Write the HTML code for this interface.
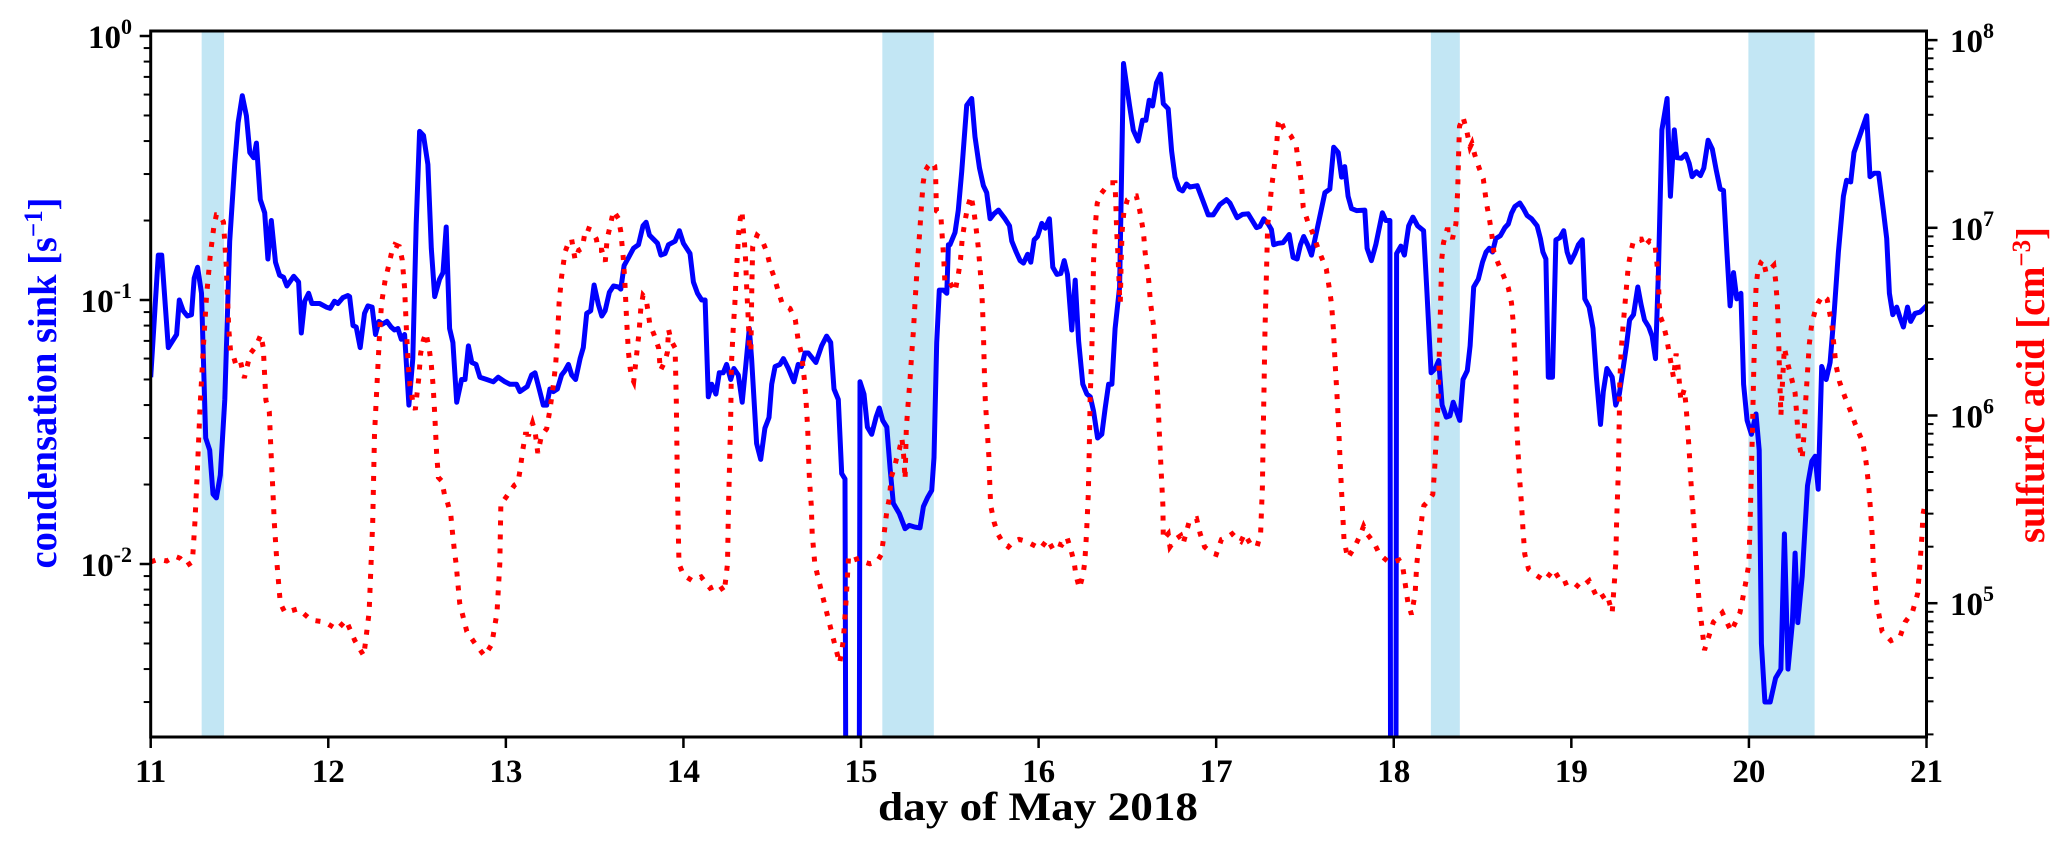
<!DOCTYPE html>
<html><head><meta charset="utf-8"><style>
html,body{margin:0;padding:0;background:#fff;}
svg{display:block;}
text{font-family:"Liberation Serif",serif;font-weight:bold;}
</style></head><body>
<svg id="chart" width="2067" height="852" viewBox="0 0 2067 852" xmlns="http://www.w3.org/2000/svg">
<defs><clipPath id="plotClip"><rect x="150.7" y="31" width="1775.8" height="706"/></clipPath></defs>
<rect x="0" y="0" width="2067" height="852" fill="#fff"/>
<g id="shades" clip-path="url(#plotClip)"></g>
<g id="series" clip-path="url(#plotClip)"></g>
<g id="axes"></g>
</svg>
<script>
// ---- data ----
const shadeStarts = [11.287, 15.12, 18.209, 19.997];
const shadeEnds = [11.413, 15.41, 18.372, 20.37];
const xTickLabels = [11,12,13,14,15,16,17,18,19,20,21];
const leftTickExps = [0,-1,-2];
const rightTickExps = [8,7,6,5];

const csDays = [11.0,11.043,11.062,11.099,11.146,11.161,11.183,11.206,11.23,11.245,11.264,11.286,11.31,11.332,11.351,11.37,11.392,11.417,11.445,11.473,11.492,11.516,11.539,11.558,11.58,11.595,11.617,11.642,11.66,11.679,11.703,11.726,11.748,11.767,11.805,11.833,11.848,11.867,11.889,11.908,11.951,11.989,12.011,12.035,12.054,12.082,12.11,12.12,12.139,12.157,12.18,12.204,12.223,12.247,12.266,12.285,12.304,12.33,12.354,12.373,12.392,12.411,12.43,12.454,12.476,12.495,12.514,12.536,12.561,12.58,12.599,12.627,12.646,12.664,12.683,12.702,12.723,12.751,12.77,12.789,12.808,12.832,12.854,12.892,12.929,12.957,12.995,13.023,13.06,13.079,13.12,13.145,13.164,13.188,13.211,13.23,13.248,13.267,13.29,13.314,13.333,13.352,13.371,13.393,13.418,13.436,13.455,13.478,13.497,13.521,13.54,13.559,13.583,13.606,13.634,13.647,13.666,13.691,13.719,13.747,13.772,13.79,13.809,13.835,13.854,13.873,13.897,13.916,13.953,13.977,14.0,14.037,14.056,14.079,14.103,14.122,14.14,14.159,14.183,14.202,14.224,14.243,14.266,14.284,14.309,14.331,14.352,14.371,14.384,14.412,14.435,14.459,14.482,14.497,14.516,14.544,14.563,14.591,14.622,14.646,14.665,14.684,14.703,14.746,14.778,14.806,14.829,14.848,14.872,14.891,14.91,14.915,14.99,14.994,15.017,15.036,15.06,15.085,15.103,15.122,15.145,15.164,15.182,15.216,15.248,15.272,15.304,15.332,15.351,15.374,15.398,15.411,15.426,15.441,15.464,15.483,15.492,15.501,15.529,15.548,15.567,15.595,15.623,15.642,15.667,15.689,15.708,15.727,15.749,15.774,15.811,15.836,15.849,15.874,15.896,15.915,15.938,15.956,15.975,15.994,16.018,16.037,16.061,16.08,16.103,16.125,16.144,16.163,16.187,16.206,16.225,16.249,16.272,16.291,16.309,16.332,16.356,16.375,16.394,16.413,16.431,16.456,16.478,16.512,16.533,16.561,16.585,16.604,16.623,16.642,16.664,16.687,16.702,16.73,16.749,16.768,16.792,16.811,16.833,16.852,16.893,16.923,16.955,16.983,17.021,17.058,17.077,17.118,17.148,17.18,17.227,17.246,17.268,17.293,17.311,17.324,17.349,17.377,17.411,17.433,17.456,17.475,17.493,17.518,17.537,17.565,17.587,17.612,17.64,17.662,17.687,17.706,17.724,17.743,17.762,17.79,17.837,17.85,17.874,17.899,17.936,17.955,17.978,17.982,18.012,18.016,18.04,18.06,18.084,18.108,18.134,18.168,18.187,18.21,18.234,18.253,18.272,18.296,18.316,18.335,18.372,18.39,18.414,18.43,18.45,18.476,18.5,18.52,18.538,18.556,18.575,18.6,18.626,18.645,18.663,18.682,18.71,18.73,18.751,18.776,18.807,18.826,18.84,18.857,18.87,18.894,18.913,18.935,18.957,18.976,18.995,19.02,19.04,19.062,19.076,19.1,19.122,19.141,19.164,19.18,19.2,19.23,19.25,19.27,19.29,19.31,19.328,19.35,19.374,19.393,19.412,19.436,19.455,19.474,19.49,19.51,19.539,19.558,19.58,19.595,19.62,19.644,19.663,19.68,19.704,19.727,19.746,19.77,19.794,19.816,19.838,19.857,19.876,19.894,19.913,19.932,19.955,19.97,19.99,20.014,20.04,20.058,20.07,20.09,20.12,20.15,20.18,20.2,20.22,20.245,20.26,20.275,20.3,20.33,20.354,20.373,20.39,20.41,20.435,20.457,20.48,20.504,20.532,20.55,20.573,20.592,20.622,20.663,20.682,20.705,20.73,20.757,20.776,20.791,20.81,20.832,20.85,20.87,20.893,20.911,20.935,20.964,20.992,21.0];
const csValues = [0.051,0.148,0.148,0.066,0.074,0.1,0.091,0.087,0.088,0.121,0.133,0.106,0.030,0.027,0.0184,0.0178,0.0217,0.042,0.167,0.326,0.469,0.594,0.499,0.362,0.346,0.393,0.24,0.214,0.143,0.2,0.139,0.124,0.122,0.113,0.123,0.117,0.075,0.099,0.106,0.097,0.097,0.094,0.093,0.099,0.097,0.102,0.104,0.103,0.080,0.079,0.066,0.089,0.095,0.094,0.074,0.083,0.081,0.083,0.079,0.077,0.078,0.071,0.074,0.040,0.060,0.194,0.435,0.42,0.326,0.157,0.103,0.12,0.127,0.189,0.078,0.069,0.041,0.050,0.050,0.067,0.058,0.057,0.051,0.050,0.049,0.051,0.049,0.048,0.048,0.045,0.047,0.052,0.053,0.046,0.040,0.040,0.046,0.045,0.046,0.052,0.054,0.057,0.052,0.050,0.060,0.066,0.089,0.091,0.114,0.096,0.087,0.091,0.107,0.113,0.112,0.110,0.135,0.145,0.157,0.162,0.191,0.197,0.176,0.169,0.164,0.148,0.150,0.162,0.167,0.183,0.164,0.150,0.117,0.106,0.100,0.100,0.043,0.048,0.044,0.053,0.053,0.057,0.050,0.055,0.052,0.041,0.057,0.078,0.060,0.0286,0.0249,0.0327,0.0359,0.048,0.056,0.057,0.060,0.055,0.049,0.057,0.056,0.063,0.063,0.058,0.067,0.073,0.069,0.046,0.042,0.022,0.021,0.001,0.001,0.049,0.044,0.033,0.031,0.036,0.039,0.035,0.033,0.023,0.017,0.0155,0.0136,0.014,0.0138,0.0137,0.0165,0.0178,0.019,0.0253,0.069,0.109,0.109,0.106,0.162,0.162,0.18,0.219,0.306,0.546,0.58,0.415,0.316,0.271,0.255,0.203,0.212,0.219,0.203,0.191,0.167,0.152,0.141,0.138,0.149,0.139,0.169,0.174,0.195,0.187,0.203,0.133,0.125,0.126,0.141,0.125,0.077,0.119,0.070,0.048,0.044,0.043,0.038,0.030,0.031,0.039,0.048,0.048,0.078,0.112,0.787,0.546,0.44,0.40,0.48,0.48,0.571,0.543,0.665,0.718,0.554,0.53,0.367,0.292,0.263,0.259,0.275,0.268,0.271,0.24,0.21,0.21,0.23,0.24,0.233,0.205,0.211,0.212,0.188,0.19,0.203,0.194,0.185,0.162,0.164,0.165,0.177,0.145,0.143,0.162,0.174,0.16,0.148,0.181,0.212,0.255,0.263,0.379,0.362,0.292,0.32,0.247,0.222,0.218,0.219,0.157,0.141,0.162,0.214,0.2,0.2,0.001,0.001,0.15,0.16,0.148,0.191,0.206,0.191,0.183,0.106,0.053,0.055,0.059,0.040,0.036,0.0364,0.041,0.035,0.050,0.054,0.067,0.112,0.12,0.139,0.152,0.157,0.152,0.171,0.175,0.188,0.194,0.213,0.226,0.233,0.222,0.209,0.203,0.191,0.171,0.152,0.143,0.051,0.051,0.169,0.172,0.183,0.152,0.139,0.15,0.162,0.169,0.101,0.094,0.078,0.051,0.0338,0.045,0.055,0.051,0.040,0.044,0.054,0.067,0.084,0.088,0.112,0.096,0.084,0.079,0.073,0.060,0.127,0.441,0.58,0.247,0.441,0.346,0.344,0.357,0.33,0.293,0.306,0.296,0.316,0.403,0.373,0.311,0.263,0.26,0.152,0.095,0.127,0.101,0.106,0.048,0.035,0.031,0.037,0.027,0.005,0.003,0.003,0.0037,0.004,0.013,0.004,0.006,0.011,0.006,0.009,0.0198,0.0245,0.0256,0.0192,0.056,0.05,0.058,0.09,0.152,0.247,0.284,0.28,0.362,0.415,0.499,0.293,0.302,0.302,0.219,0.171,0.106,0.088,0.094,0.086,0.079,0.094,0.083,0.089,0.09,0.094,0.095];

const acidDays = [11.0,11.043,11.09,11.137,11.165,11.203,11.235,11.249,11.263,11.277,11.296,11.315,11.335,11.355,11.37,11.39,11.41,11.425,11.44,11.45,11.462,11.48,11.505,11.527,11.561,11.593,11.62,11.634,11.649,11.668,11.677,11.687,11.696,11.711,11.73,11.756,11.83,11.904,11.98,12.05,12.1,12.15,12.2,12.23,12.25,12.26,12.28,12.29,12.3,12.32,12.338,12.357,12.375,12.4,12.416,12.43,12.44,12.45,12.46,12.475,12.49,12.5,12.51,12.52,12.535,12.55,12.568,12.58,12.59,12.6,12.61,12.62,12.64,12.66,12.67,12.69,12.7,12.71,12.72,12.74,12.78,12.83,12.88,12.92,12.95,12.966,12.972,12.99,13.02,13.05,13.068,13.08,13.096,13.11,13.13,13.15,13.165,13.18,13.2,13.23,13.248,13.267,13.28,13.29,13.3,13.314,13.333,13.352,13.37,13.39,13.41,13.43,13.45,13.48,13.51,13.52,13.54,13.56,13.57,13.59,13.606,13.634,13.647,13.66,13.67,13.68,13.69,13.7,13.71,13.72,13.73,13.75,13.76,13.772,13.79,13.8,13.81,13.835,13.86,13.87,13.897,13.91,13.916,13.93,13.953,13.96,13.965,13.97,13.975,14.0,14.05,14.1,14.15,14.2,14.23,14.248,14.253,14.26,14.266,14.27,14.28,14.29,14.297,14.305,14.312,14.32,14.33,14.336,14.342,14.35,14.356,14.364,14.371,14.38,14.385,14.39,14.415,14.44,14.47,14.49,14.51,14.535,14.555,14.58,14.6,14.63,14.646,14.665,14.68,14.69,14.7,14.705,14.71,14.72,14.725,14.735,14.74,14.78,14.82,14.86,14.88,14.9,14.915,14.93,14.96,14.99,15.017,15.05,15.09,15.115,15.13,15.145,15.16,15.17,15.19,15.2,15.216,15.23,15.24,15.248,15.255,15.265,15.276,15.285,15.295,15.304,15.313,15.322,15.332,15.341,15.35,15.36,15.378,15.397,15.415,15.42,15.423,15.425,15.44,15.45,15.458,15.466,15.472,15.48,15.5,15.53,15.548,15.56,15.57,15.583,15.6,15.62,15.635,15.645,15.66,15.67,15.68,15.685,15.69,15.695,15.7,15.71,15.72,15.725,15.73,15.75,15.77,15.8,15.83,15.86,15.89,15.93,15.97,16.01,16.05,16.08,16.1,16.13,16.16,16.18,16.2,16.21,16.23,16.25,16.26,16.27,16.28,16.285,16.29,16.3,16.305,16.31,16.32,16.33,16.35,16.375,16.4,16.43,16.435,16.44,16.448,16.456,16.46,16.465,16.47,16.48,16.5,16.53,16.55,16.57,16.59,16.6,16.62,16.63,16.65,16.66,16.67,16.68,16.69,16.7,16.702,16.73,16.74,16.77,16.8,16.815,16.85,16.89,16.91,16.935,16.97,17.0,17.03,17.06,17.09,17.11,17.14,17.16,17.19,17.23,17.25,17.26,17.265,17.27,17.275,17.28,17.285,17.29,17.3,17.31,17.325,17.34,17.35,17.36,17.38,17.42,17.45,17.46,17.48,17.49,17.52,17.54,17.57,17.59,17.62,17.64,17.65,17.66,17.67,17.68,17.69,17.7,17.71,17.72,17.74,17.78,17.81,17.83,17.85,17.89,17.92,17.97,18.0,18.03,18.05,18.08,18.1,18.12,18.13,18.145,18.16,18.17,18.2,18.22,18.23,18.24,18.25,18.255,18.26,18.265,18.27,18.28,18.3,18.32,18.33,18.35,18.36,18.365,18.37,18.39,18.41,18.43,18.44,18.456,18.48,18.504,18.522,18.538,18.55,18.564,18.588,18.616,18.645,18.663,18.673,18.68,18.688,18.69,18.7,18.71,18.72,18.728,18.738,18.76,18.8,18.85,18.9,18.95,19.0,19.05,19.1,19.15,19.2,19.23,19.25,19.255,19.265,19.27,19.273,19.28,19.29,19.3,19.31,19.32,19.334,19.35,19.37,19.394,19.41,19.44,19.47,19.48,19.49,19.495,19.5,19.517,19.535,19.55,19.563,19.576,19.59,19.6,19.608,19.617,19.636,19.645,19.655,19.664,19.673,19.683,19.692,19.7,19.72,19.75,19.8,19.85,19.9,19.95,19.98,20.0,20.005,20.01,20.015,20.02,20.025,20.03,20.035,20.04,20.05,20.07,20.08,20.097,20.12,20.14,20.15,20.16,20.166,20.17,20.175,20.18,20.19,20.2,20.22,20.24,20.26,20.27,20.28,20.3,20.31,20.32,20.33,20.34,20.354,20.373,20.39,20.415,20.44,20.45,20.466,20.48,20.49,20.51,20.54,20.57,20.6,20.64,20.66,20.675,20.685,20.696,20.7,20.72,20.75,20.8,20.85,20.88,20.92,20.95,20.964,20.975,20.98,20.99,21.0];
const acidLog10 = [5.22,5.234,5.225,5.25,5.24,5.2,5.22,5.43,5.71,6.03,6.36,6.64,6.85,7.0,7.07,7.07,7.03,6.8,6.46,6.34,6.33,6.27,6.29,6.2,6.33,6.37,6.43,6.36,6.08,6.02,5.82,5.62,5.43,5.21,5.0,4.95,4.97,4.91,4.9,4.86,4.91,4.8,4.72,4.95,5.43,5.9,6.27,6.46,6.6,6.72,6.79,6.87,6.91,6.9,6.83,6.68,6.46,6.27,6.16,6.08,6.03,6.12,6.2,6.33,6.4,6.44,6.36,6.27,6.16,6.0,5.8,5.67,5.65,5.55,5.54,5.47,5.37,5.28,5.21,5.0,4.85,4.78,4.72,4.78,4.95,5.21,5.54,5.55,5.59,5.63,5.64,5.71,5.82,5.9,5.9,5.96,5.91,5.8,5.89,5.93,6.03,6.16,6.27,6.4,6.6,6.74,6.87,6.92,6.94,6.83,6.88,6.89,7.0,6.99,6.94,6.88,6.88,6.82,6.94,7.02,7.09,7.05,6.98,6.85,6.72,6.51,6.34,6.25,6.2,6.18,6.27,6.44,6.57,6.64,6.62,6.56,6.49,6.43,6.36,6.24,6.29,6.34,6.46,6.4,6.36,6.08,5.71,5.43,5.21,5.15,5.12,5.14,5.08,5.1,5.06,5.21,5.49,5.75,5.99,6.27,6.46,6.6,6.75,6.87,6.98,7.05,7.09,7.0,6.94,6.83,6.68,6.53,6.38,6.34,6.68,6.9,6.96,6.94,6.87,6.79,6.74,6.66,6.6,6.58,6.57,6.51,6.4,6.33,6.2,6.08,5.93,5.78,5.65,5.52,5.37,5.26,5.21,5.05,4.9,4.75,4.68,4.8,5.0,5.25,5.23,5.24,5.22,5.21,5.22,5.26,5.37,5.49,5.56,5.67,5.73,5.77,5.82,5.88,5.79,5.66,5.93,6.06,6.19,6.32,6.45,6.6,6.74,6.87,7.0,7.13,7.24,7.3,7.33,7.35,7.33,7.28,7.17,7.09,7.08,7.06,6.94,6.83,6.72,6.7,6.71,6.66,6.75,6.83,6.94,7.02,7.11,7.17,7.09,7.02,6.9,6.79,6.66,6.55,6.4,6.23,6.08,5.93,5.78,5.63,5.52,5.43,5.37,5.32,5.3,5.33,5.34,5.33,5.31,5.29,5.34,5.29,5.32,5.31,5.35,5.29,5.22,5.15,5.08,5.15,5.22,5.37,5.58,5.8,6.08,6.36,6.59,6.83,7.02,7.13,7.18,7.21,7.24,7.24,7.13,6.98,6.83,6.64,6.6,6.83,6.98,7.08,7.15,7.17,7.17,7.09,6.98,6.87,6.72,6.6,6.46,6.27,6.12,5.9,5.71,5.52,5.34,5.37,5.3,5.34,5.36,5.32,5.44,5.45,5.37,5.3,5.27,5.26,5.34,5.35,5.37,5.35,5.33,5.37,5.32,5.3,5.37,5.62,5.9,6.17,6.46,6.64,6.83,7.02,7.09,7.2,7.31,7.44,7.56,7.58,7.53,7.49,7.44,7.37,7.24,7.11,7.02,6.98,6.9,6.85,6.78,6.66,6.59,6.46,6.27,6.12,5.93,5.71,5.52,5.34,5.24,5.3,5.36,5.41,5.37,5.32,5.26,5.22,5.22,5.23,5.2,5.0,4.94,5.05,5.21,5.34,5.47,5.52,5.55,5.58,5.71,5.9,6.08,6.27,6.46,6.64,6.83,6.92,6.99,6.99,6.94,7.02,7.2,7.39,7.54,7.59,7.52,7.43,7.45,7.39,7.32,7.26,7.13,7.05,6.98,6.87,6.81,6.75,6.68,6.6,6.49,6.34,6.18,6.01,5.8,5.65,5.52,5.39,5.26,5.18,5.15,5.12,5.18,5.1,5.12,5.08,5.12,5.02,5.05,4.95,5.21,5.43,5.71,5.99,6.18,6.34,6.46,6.57,6.68,6.79,6.87,6.93,6.94,6.94,6.9,6.93,6.92,6.83,6.72,6.6,6.53,6.49,6.42,6.34,6.27,6.2,6.33,6.27,6.18,6.08,6.14,6.06,5.93,5.8,5.65,5.52,5.39,5.26,5.0,4.75,4.9,4.95,4.85,4.95,5.1,5.21,5.37,5.56,5.75,5.93,6.16,6.34,6.53,6.68,6.77,6.82,6.83,6.76,6.78,6.8,6.72,6.6,6.46,6.31,6.16,6.0,6.2,6.36,6.27,6.2,6.12,5.99,5.86,5.77,5.9,6.08,6.23,6.38,6.49,6.56,6.6,6.64,6.62,6.57,6.49,6.36,6.27,6.18,6.1,6.03,5.95,5.86,5.75,5.62,5.49,5.34,5.21,5.0,4.85,4.8,4.82,4.9,4.95,5.05,5.22,5.37,5.47,5.52,5.54];

// ---- axes functions ----
const PL = 150.7, PR = 1926.5, PT = 31, PB = 737;
function xS(d){ return PL + (d - 11) * (PR - PL) / 10; }
function yL(v){ return 36 + (-Math.log10(v)) * 264; }
function yRlog(lg){ return 40.1 + (8 - lg) * 187.7; }
const NS = 'http://www.w3.org/2000/svg';
function mk(tag, attrs, parent){ const e = document.createElementNS(NS, tag); for (const k in attrs) e.setAttribute(k, attrs[k]); parent.appendChild(e); return e; }

const shades = document.getElementById('shades');
for (let i = 0; i < shadeStarts.length; i++) {
  const r = mk('rect', {x: xS(shadeStarts[i]), y: PT, width: xS(shadeEnds[i]) - xS(shadeStarts[i]), height: PB - PT, fill: '#c2e6f4'}, shades);
  
  
}

const series = document.getElementById('series');
let dB = '';
for (let i = 0; i < csDays.length; i++) dB += (i ? 'L' : 'M') + xS(csDays[i]).toFixed(1) + ' ' + yL(csValues[i]).toFixed(1);
const blue = mk('path', {d: dB, fill: 'none', stroke: '#0000ff', 'stroke-width': 5, 'stroke-linejoin': 'round'}, series);


let dR = '';
for (let i = 0; i < acidDays.length; i++) dR += (i ? 'L' : 'M') + xS(acidDays[i]).toFixed(1) + ' ' + yRlog(acidLog10[i]).toFixed(1);
const red = mk('path', {d: dR, fill: 'none', stroke: '#ff0000', 'stroke-width': 5, 'stroke-dasharray': '5 9'}, series);



const axes = document.getElementById('axes');
const frame = mk('rect', {x: PL, y: PT, width: PR - PL, height: PB - PT, fill: 'none', stroke: '#000', 'stroke-width': 3}, axes);



// x ticks
for (const t of xTickLabels) {
  const x = xS(t);
  const tk = mk('line', {x1: x, x2: x, y1: PB, y2: PB + 11, stroke: '#000', 'stroke-width': 2.5}, axes);
  
  
  const tx = mk('text', {x: x, y: 782, 'text-anchor': 'middle', 'font-size': 33, fill: '#000'}, axes);
  tx.textContent = String(t);
  
  
}
// left ticks
for (let e = 0; e >= -3; e--) {
  for (let m = 1; m <= 9; m++) {
    const v = m * Math.pow(10, e);
    const y = yL(v);
    if (y < PT - 0.5 || y > PB + 0.5) continue;
    const len = m === 1 ? 11 : 7;
    const tk = mk('line', {x1: PL - len, x2: PL, y1: y, y2: y, stroke: '#000', 'stroke-width': m === 1 ? 2.5 : 2}, axes);
    
    
  }
}
for (const e of leftTickExps) {
  const y = yL(Math.pow(10, e));
  const tx = mk('text', {x: 132, y: y + 12, 'text-anchor': 'end', 'font-size': 33, fill: '#000'}, axes);
  tx.appendChild(document.createTextNode('10'));
  const sp = mk('tspan', {dy: -14, 'font-size': 22}, tx);
  sp.textContent = e === 0 ? '0' : '-' + Math.abs(e);
  
  
}
// right ticks
for (let e = 8; e >= 4; e--) {
  for (let m = 1; m <= 9; m++) {
    const lg = e + Math.log10(m);
    const y = yRlog(lg);
    if (y < PT - 0.5 || y > PB + 0.5) continue;
    const len = m === 1 ? 11 : 7;
    const tk = mk('line', {x1: PR, x2: PR + len, y1: y, y2: y, stroke: '#000', 'stroke-width': m === 1 ? 2.5 : 2}, axes);
    
    
  }
}
for (const e of rightTickExps) {
  const y = yRlog(e);
  const tx = mk('text', {x: 1950, y: y + 12, 'text-anchor': 'start', 'font-size': 33, fill: '#000'}, axes);
  tx.appendChild(document.createTextNode('10'));
  const sp = mk('tspan', {dy: -14, 'font-size': 22}, tx);
  sp.textContent = String(e);
  
  
}
</script>
<svg style="position:absolute;left:0;top:0" width="2067" height="852" xmlns="http://www.w3.org/2000/svg">
<text x="1038" y="820" text-anchor="middle" font-size="40" textLength="320" lengthAdjust="spacingAndGlyphs" style="font-family:'Liberation Serif',serif;font-weight:bold">day of May 2018</text>
<text transform="translate(56,383) rotate(-90)" text-anchor="middle" font-size="40" fill="#0000ff" textLength="371" lengthAdjust="spacingAndGlyphs" style="font-family:'Liberation Serif',serif;font-weight:bold">condensation sink [s<tspan dy="-14" font-size="26">−1</tspan><tspan dy="14">]</tspan></text>
<text transform="translate(2044,385) rotate(-90)" text-anchor="middle" font-size="40" fill="#ff0000" textLength="316" lengthAdjust="spacingAndGlyphs" style="font-family:'Liberation Serif',serif;font-weight:bold">sulfuric acid [cm<tspan dy="-14" font-size="26">−3</tspan><tspan dy="14">]</tspan></text>
</svg>
</body></html>
